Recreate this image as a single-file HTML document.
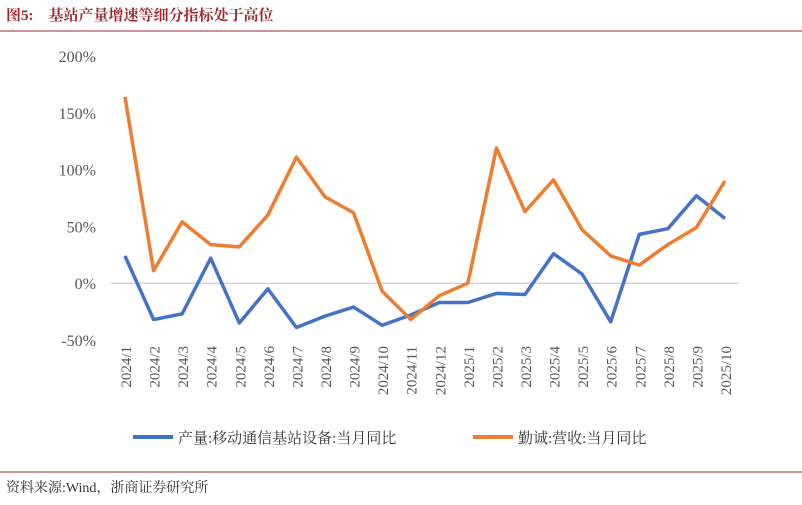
<!DOCTYPE html>
<html><head><meta charset="utf-8"><style>
body{margin:0;background:#fff;width:802px;height:500px;overflow:hidden;font-family:"Liberation Serif","Noto Serif CJK SC",serif;}
</style></head><body>
<svg width="802" height="500" xmlns="http://www.w3.org/2000/svg">
<text x="6" y="20" font-size="15" font-weight="bold" fill="#a0262c" font-family="Liberation Serif, Noto Serif CJK SC, serif" xml:space="preserve">图5:    基站产量增速等细分指标处于高位</text>
<line x1="0" y1="31" x2="802" y2="31" stroke="#a0262c" stroke-width="1"/>
<g id="yaxis"></g>
<g id="xaxis"></g>
<g id="series"></g>
<g>
<line x1="133" y1="437" x2="173" y2="437" stroke="#4472c4" stroke-width="4"/>
<text x="178" y="443" font-size="15" fill="#333">产量:移动通信基站设备:当月同比</text>
<line x1="473" y1="437" x2="513" y2="437" stroke="#ed7d31" stroke-width="4"/>
<text x="518" y="443" font-size="15" fill="#333">勤诚:营收:当月同比</text>
</g>
<line x1="0" y1="472" x2="802" y2="472" stroke="#a0262c" stroke-width="1"/>
<text x="6" y="492" font-size="14" fill="#333">资料来源:Wind，浙商证券研究所</text>
</svg>
<script>
const categories=["2024/1","2024/2","2024/3","2024/4","2024/5","2024/6","2024/7","2024/8","2024/9","2024/10","2024/11","2024/12","2025/1","2025/2","2025/3","2025/4","2025/5","2025/6","2025/7","2025/8","2025/9","2025/10"];
const production=[24,-32,-27,22,-35,-5,-39,-29,-21,-37,-28,-17,-17,-9,-10,26,8,-34,43,48,77,57];
const revenue=[164,11,54,34,32,60,111,76,62,-7,-32,-11,0,119,63,91,47,24,16,34,49,90];
const yTicks=[-50,0,50,100,150,200];
const NS="http://www.w3.org/2000/svg";
const x0=125,x1=725,yTop=56,yBot=340;
const xs=i=>x0+i*(x1-x0)/(categories.length-1);
const ys=v=>yBot-(v+50)/250*(yBot-yTop);
function mk(tag,attrs,parent){const e=document.createElementNS(NS,tag);for(const k in attrs)e.setAttribute(k,attrs[k]);parent.appendChild(e);return e;}
const ya=document.getElementById('yaxis'),xa=document.getElementById('xaxis'),sg=document.getElementById('series');
yTicks.forEach(t=>{const e=mk('text',{x:96,y:ys(t)+6,'text-anchor':'end','font-size':16,fill:'#555'},ya);e.textContent=t+'%';

});
const zl=mk('line',{x1:111,x2:739,y1:ys(0),y2:ys(0),stroke:'#bfbfbf','stroke-width':1},xa);


categories.forEach((c,i)=>{const e=mk('text',{transform:`translate(${xs(i)+6},${346}) rotate(-90)`,'text-anchor':'end','font-size':15,fill:'#555'},xa);e.textContent=c;

});
function line(data,color,name){const p=mk('polyline',{points:data.map((v,i)=>xs(i)+','+ys(v)).join(' '),fill:'none',stroke:color,'stroke-width':3.5,'stroke-linejoin':'round'},sg);

}
line(production,'#4472c4','production-line');
line(revenue,'#ed7d31','revenue-line');
</script>
</body></html>
